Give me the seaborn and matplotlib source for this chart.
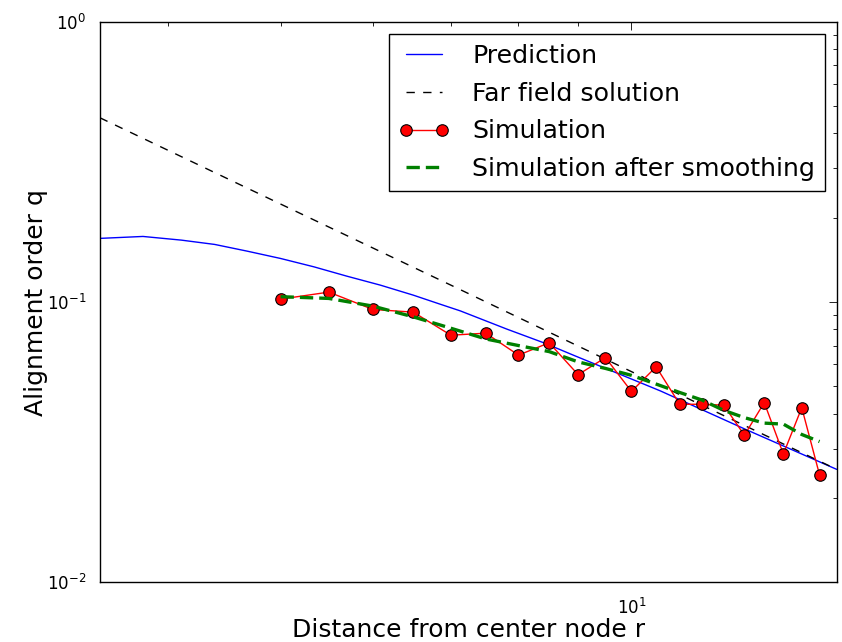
import matplotlib
matplotlib.use("Agg")
import matplotlib.pyplot as plt
import matplotlib.ticker as mticker
import seaborn as sns
import pandas as pd

# ---- data ----
r_pred = [3.5, 3.81, 4.11, 4.39, 4.68, 5.0, 5.34, 5.70, 6.09, 6.50, 6.85, 7.13,
          7.82, 8.41, 8.93, 10.2, 10.59, 12.5, 15.0]
q_pred = [0.1689, 0.1716, 0.1665, 0.1607, 0.1521, 0.1432, 0.1337, 0.1238, 0.1150,
          0.1059, 0.0984, 0.0931, 0.0801, 0.0716, 0.0645, 0.0514, 0.0482, 0.0353, 0.0253]

r_far = [3.5, 5.0, 7.0, 10.0, 15.0]
q_far = [0.455, 0.224, 0.115, 0.0565, 0.0253]

r_sim = [5.0, 5.5, 6.0, 6.5, 7.0, 7.5, 8.0, 8.5, 9.0, 9.5,
         10.0, 10.5, 11.0, 11.5, 12.0, 12.5, 13.0, 13.5, 14.0, 14.5]
q_sim = [0.1025, 0.1086, 0.0942, 0.0921, 0.0762, 0.0775, 0.0647, 0.0716, 0.0551, 0.0634,
         0.0480, 0.0588, 0.0432, 0.0432, 0.0429, 0.0335, 0.0438, 0.0287, 0.0420, 0.0242]
q_smooth = [0.1046, 0.1031, 0.0968, 0.0886, 0.0807, 0.0739, 0.0700, 0.0666, 0.0612, 0.0580,
            0.0548, 0.0510, 0.0476, 0.0447, 0.0411, 0.0387, 0.0370, 0.0367, 0.0337, 0.0318]

labels = ["Prediction", "Far field solution", "Simulation", "Simulation after smoothing"]

sns.set_style("white", {"xtick.direction": "in", "ytick.direction": "in",
                        "axes.edgecolor": "black", "text.color": "black",
                        "axes.labelcolor": "black", "xtick.color": "black",
                        "ytick.color": "black"})
plt.rcParams["font.family"] = ["DejaVu Sans"]
plt.rcParams["axes.linewidth"] = 1.0
plt.rcParams["text.color"] = "black"
plt.rcParams["legend.labelcolor"] = "black"

fig = plt.figure(figsize=(8.42, 6.42), dpi=100)
ax = fig.add_axes([100 / 842, 1 - 582.3 / 642, 736.7 / 842, 560.3 / 642])

df_pred = pd.DataFrame({"r": r_pred, "q": q_pred})
df_far = pd.DataFrame({"r": r_far, "q": q_far})
df_sim = pd.DataFrame({"r": r_sim, "q": q_sim, "s": q_smooth})

sns.lineplot(data=df_pred, x="r", y="q", ax=ax, color="blue", lw=1.0,
             label=labels[0], sort=False, estimator=None)
sns.lineplot(data=df_far, x="r", y="q", ax=ax, color="black", lw=1.0,
             linestyle=(0, (6, 6)), label=labels[1], sort=False, estimator=None)
sns.lineplot(data=df_sim, x="r", y="q", ax=ax, color="red", lw=1.0,
             marker="o", markersize=8.3, markerfacecolor="red",
             markeredgecolor="black", markeredgewidth=0.8,
             label=labels[2], sort=False, estimator=None)
sns.lineplot(data=df_sim, x="r", y="s", ax=ax, color="green", lw=2.4,
             linestyle=(0, (4, 1.8)), label=labels[3], sort=False, estimator=None)

ax.set_xscale("log")
ax.set_yscale("log")
ax.set_xlim(3.5, 15)
ax.set_ylim(0.01, 1)

ax.xaxis.set_minor_formatter(mticker.NullFormatter())
ax.yaxis.set_minor_formatter(mticker.NullFormatter())
ax.tick_params(which="both", direction="in", top=True, right=True,
               labelsize=12, colors="black")
ax.tick_params(axis="x", which="both", pad=11)
ax.tick_params(axis="y", which="both", pad=10)
ax.tick_params(which="major", length=5.5, width=0.6)
ax.tick_params(which="minor", length=2.8, width=0.6)

ax.set_xlabel("Distance from center node r", fontsize=18, labelpad=0, color="black")
ax.set_ylabel("Alignment order q", fontsize=18, labelpad=-1, color="black")

for sp in ax.spines.values():
    sp.set_visible(True)
    sp.set_color("black")
    sp.set_linewidth(1.0)

leg = ax.legend(loc="upper right", bbox_to_anchor=(0.9843, 0.9786),
                borderaxespad=0, fontsize=18.2, numpoints=2, handlelength=2,
                handletextpad=0.9, borderpad=0.4, labelspacing=0.54,
                fancybox=False, framealpha=1, edgecolor="black")
leg.get_frame().set_linewidth(1.0)
for t in leg.get_texts():
    t.set_color("black")

fig.savefig("out.png", dpi=100)
